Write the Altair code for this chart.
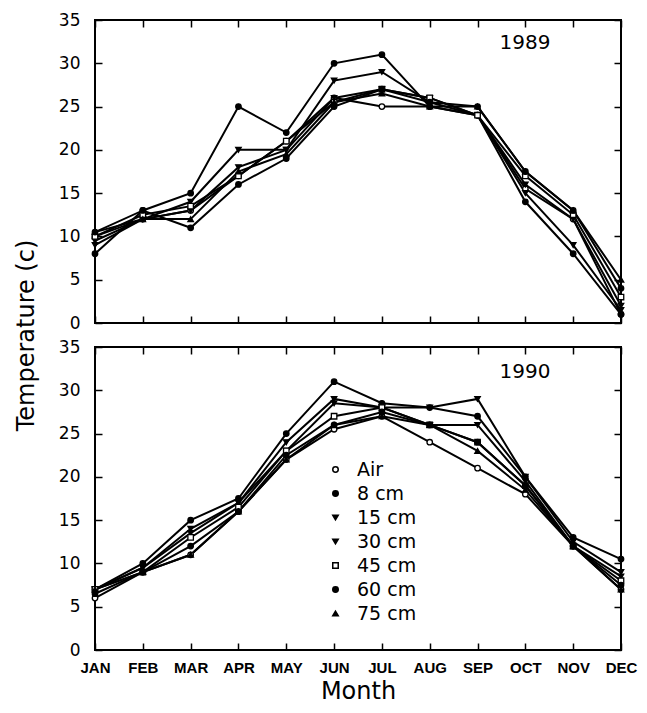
import altair as alt
import pandas as pd

months = ["JAN", "FEB", "MAR", "APR", "MAY", "JUN", "JUL", "AUG", "SEP", "OCT", "NOV", "DEC"]
series = ["Air", "\u20078 cm", "15 cm", "30 cm", "45 cm", "60 cm", "75 cm"]

t1989_air = [10, 12, 13, 17, 21, 26, 25, 25, 24, 15.5, 12, 1]
t1989_8 = [8, 13, 15, 25, 22, 30, 31, 25, 24, 14, 8, 1]
t1989_15 = [9, 12, 14, 20, 20, 28, 29, 25.5, 24, 15, 9, 1.5]
t1989_30 = [9.5, 12, 13, 18, 20, 26, 27, 26, 24, 16, 12, 2]
t1989_45 = [10, 12.5, 13.5, 17, 21, 25.5, 27, 26, 24, 17, 12.5, 3]
t1989_60 = [10.5, 13, 11, 16, 19, 25, 27, 25.5, 25, 17.5, 13, 4]
t1989_75 = [10.5, 12, 12, 17.5, 19.5, 25.5, 26.5, 25, 25, 17.5, 13, 5]

t1990_air = [6, 9, 11, 16, 22, 25.5, 27, 24, 21, 18, 12, 7]
t1990_8 = [7, 10, 15, 17.5, 25, 31, 28.5, 28, 27, 20, 13, 10.5]
t1990_15 = [7, 9.5, 14, 17, 24, 29, 28, 28, 29, 20, 12.5, 9]
t1990_30 = [7, 9.5, 13.5, 17, 23, 28.5, 28, 26, 26, 19.5, 12, 8.5]
t1990_45 = [7, 9, 13, 16.5, 23, 27, 28, 26, 24, 19, 12, 8]
t1990_60 = [6.5, 9, 12, 16, 22.5, 26, 27.5, 26, 24, 19, 12, 7.5]
t1990_75 = [7, 9, 11, 16, 22, 26, 27, 26, 23, 18.5, 12, 7]

data1989 = [t1989_air, t1989_8, t1989_15, t1989_30, t1989_45, t1989_60, t1989_75]
data1990 = [t1990_air, t1990_8, t1990_15, t1990_30, t1990_45, t1990_60, t1990_75]

fills = ["white", "black", "black", "black", "white", "black", "black"]
strokes = ["black"] * 7
shapes = ["circle", "circle", "triangle-down", "triangle-down", "square", "circle", "triangle-up"]


def frame(vals):
    rows = []
    for s, arr in zip(series, vals):
        for m, v in zip(months, arr):
            rows.append({"month": m, "series": s, "temp": v})
    return pd.DataFrame(rows)


FONT = "DejaVu Sans"
W, H = 526, 303


def panel(df, year, bottom):
    xscale = alt.Scale(domain=months, type="point", padding=0)
    yscale = alt.Scale(domain=[0, 35])
    base = alt.Chart(df)
    xaxis_b = alt.Axis(
        orient="bottom", domain=False, offset=-7, tickSize=7, tickWidth=1.5,
        tickColor="black", labels=bottom, labelFont="Liberation Sans", labelFontSize=15,
        labelFontWeight="bold", labelColor="black", labelPadding=10, labelAngle=0,
        labelOverlap=False,
        title="Month" if bottom else None, titleFont=FONT, titleFontSize=24,
        titleFontWeight="normal", titleColor="black", titlePadding=4,
    )
    yaxis_args = dict(
        orient="left", domain=False, offset=-7, tickSize=7, tickWidth=1.5,
        tickColor="black", values=[0, 5, 10, 15, 20, 25, 30, 35], labelFont=FONT,
        labelFontSize=17, labelColor="black", labelPadding=15, grid=False,
    )
    if not bottom:
        yaxis_args.update(
            title="Temperature (c)", titleFont=FONT, titleFontSize=24,
            titleFontWeight="normal", titleColor="black", titleX=-64, titleY=315,
            titleAngle=-90,
        )
    else:
        yaxis_args.update(title=None)
    lines = base.mark_line(color="black", strokeWidth=2).encode(
        x=alt.X("month:N", scale=xscale, sort=months, axis=xaxis_b),
        y=alt.Y("temp:Q", scale=yscale, axis=alt.Axis(**yaxis_args)),
        detail="series:N",
    )
    legend = None
    if bottom:
        legend = alt.Legend(
            orient="none", legendX=231, legendY=113, title=None,
            labelFont=FONT, labelFontSize=19, labelColor="black",
            symbolStrokeWidth=1.5, symbolSize=30, symbolOpacity=1,
            rowPadding=4, labelOffset=12,
        )
    points = base.mark_point(filled=True, size=30, opacity=1, strokeWidth=1.3).encode(
        x=alt.X("month:N", scale=xscale, sort=months,
                axis=alt.Axis(orient="top", domain=False, offset=-7, tickSize=7,
                              tickWidth=1.5, tickColor="black", labels=False, title=None)),
        y=alt.Y("temp:Q", scale=yscale,
                axis=alt.Axis(orient="right", domain=False, offset=-7, tickSize=7,
                              tickWidth=1.5, tickColor="black", labels=False, title=None,
                              values=[0, 5, 10, 15, 20, 25, 30, 35], grid=False)),
        shape=alt.Shape("series:N", scale=alt.Scale(domain=series, range=shapes), legend=legend),
        fill=alt.Fill("series:N", scale=alt.Scale(domain=series, range=fills), legend=legend),
        stroke=alt.Stroke("series:N", scale=alt.Scale(domain=series, range=strokes), legend=legend),
    )
    label = alt.Chart(pd.DataFrame({"t": [year]})).mark_text(
        font=FONT, fontSize=20, color="black", align="center", baseline="middle"
    ).encode(text="t:N", x=alt.value(430), y=alt.value(23 if not bottom else 25))
    return alt.layer(lines, points, label).resolve_axis(x="independent", y="independent").properties(
        width=W, height=H
    )


top = panel(frame(data1989), "1989", False)
bot = panel(frame(data1990), "1990", True)

chart = alt.vconcat(top, bot, spacing=24).properties(
    bounds="flush", padding={"left": 5, "top": 2, "right": 0, "bottom": 0}
).resolve_scale(shape="independent", fill="independent", stroke="independent").configure_view(
    stroke="black", strokeWidth=2
)

chart.save("out.html", embed_options={"renderer": "svg", "actions": False})
